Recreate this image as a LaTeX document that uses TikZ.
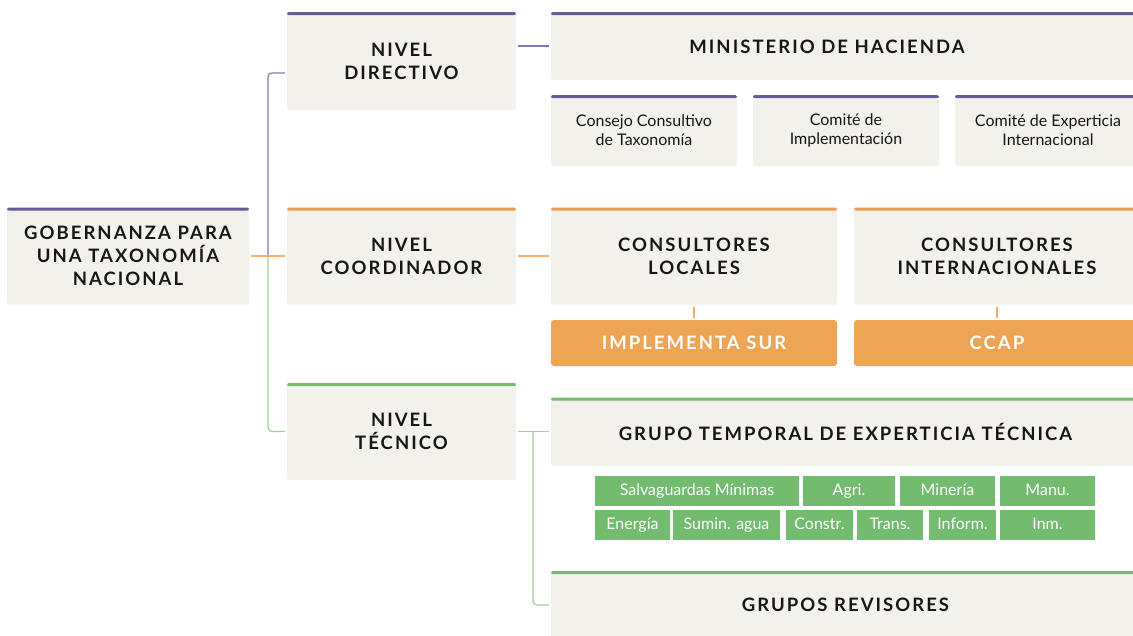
\documentclass[tikz,border=0pt]{standalone}
\usepackage{fontspec}
\setmainfont{Lato}
\newfontfamily\headfont[LetterSpace=11]{Lato}
\usetikzlibrary{calc}
\definecolor{purp}{HTML}{685A93}
\definecolor{orng}{HTML}{E9A052}
\definecolor{grn}{HTML}{72BB6F}
\definecolor{boxbg}{HTML}{F2F1EC}
\definecolor{orfill}{HTML}{EDA555}
\definecolor{ink}{HTML}{161616}
\definecolor{lpurp}{HTML}{8379AE}
\definecolor{lorng}{HTML}{EFAE68}
\definecolor{lgrn}{HTML}{9BCF98}
\tikzset{
  box/.style={fill=boxbg, rounded corners=2pt, inner sep=0pt, text=ink,
    path picture={\fill[#1] (path picture bounding box.north west) rectangle ([yshift=-3.2pt]path picture bounding box.north east);}},
  head/.style={font=\headfont\bfseries\fontsize{18.5}{23}\selectfont, align=center},
  body/.style={font=\fontsize{16}{19}\selectfont, align=center},
  obox/.style={fill=orfill, rounded corners=3pt, inner sep=0pt, text=white,
    font=\headfont\bfseries\fontsize{18.5}{23}\selectfont},
  chip/.style={fill=grn, inner sep=0pt, text=white, minimum height=30pt,
    text height=11.5pt, text depth=3.5pt, font=\fontsize{16}{18}\selectfont},
  conn/.style={line width=1.2pt, shorten <=2pt, shorten >=2pt},
}
\begin{document}
\begin{tikzpicture}[x=1pt,y=-1pt]
\clip (0,0) rectangle (1133,635);
\fill[white] (0,0) rectangle (1133,635);
% left column
\node[box=purp, head, minimum width=242pt, minimum height=97pt] (gob) at (128,256)
  {GOBERNANZA PARA\\UNA TAXONOMÍA\\NACIONAL};
\node[box=purp, head, minimum width=229pt, minimum height=98pt] (dir) at (401.5,61)
  {NIVEL\\DIRECTIVO};
\node[box=orng, head, minimum width=229pt, minimum height=97pt] (coord) at (401.5,256)
  {NIVEL\\COORDINADOR};
\node[box=grn, head, minimum width=229pt, minimum height=97pt] (tec) at (401.5,431.5)
  {NIVEL\\TÉCNICO};
% directive level
\node[box=purp, minimum width=589pt, minimum height=68pt] (min) at (845.5,46) {};
\node[head, text=ink, inner sep=0pt] (mint) at (827,47) {MINISTERIO DE HACIENDA};
\node[box=purp, body, minimum width=186pt, minimum height=71pt] (cons) at (644,130.5)
  {Consejo Consultivo\\de Taxonomía};
\node[box=purp, body, minimum width=186pt, minimum height=71pt] (impl) at (846,130.5)
  {Comité de\\Implementación};
\node[box=purp, body, minimum width=186pt, minimum height=71pt] (exp) at (1048,130.5)
  {Comité de Experticia\\Internacional};
% coordinating level
\node[box=orng, head, minimum width=286pt, minimum height=97pt] (cloc) at (694,256)
  {CONSULTORES\\LOCALES};
\node[box=orng, head, minimum width=286pt, minimum height=97pt] (cint) at (997,256)
  {CONSULTORES\\INTERNACIONALES};
\node[obox, minimum width=286pt, minimum height=46pt] (isur) at (694,343) {IMPLEMENTA SUR};
\node[obox, minimum width=286pt, minimum height=46pt] (ccap) at (997,343) {CCAP};
% technical level
\node[box=grn, head, minimum width=589pt, minimum height=68pt] (gte) at (845.5,431.5)
  {GRUPO TEMPORAL DE EXPERTICIA TÉCNICA};
\node[chip, minimum width=204pt] (c1) at (697,491) {Salvaguardas Mínimas};
\node[chip, minimum width=92pt] (c2) at (849,491) {Agri.};
\node[chip, minimum width=95pt] (c3) at (947.5,491) {Minería};
\node[chip, minimum width=95pt] (c4) at (1047.5,491) {Manu.};
\node[chip, minimum width=75pt] (d1) at (632.5,525) {Energía};
\node[chip, minimum width=107pt] (d2) at (726.5,525) {Sumin. agua};
\node[chip, minimum width=67pt] (d3) at (819.5,525) {Constr.};
\node[chip, minimum width=66pt] (d4) at (890,525) {Trans.};
\node[chip, minimum width=67pt] (d5) at (962.5,525) {Inform.};
\node[chip, minimum width=95pt] (d6) at (1047.5,525) {Inm.};
\node[box=grn, head, minimum width=589pt, minimum height=68pt] (grev) at (845.5,605)
  {GRUPOS REVISORES};
% connectors
\coordinate (trtop) at ($(dir.west)+(0,12)$);
\coordinate (trmid) at (268,256);
\draw[lpurp, line width=1.2pt, rounded corners=4pt, shorten <=2pt]
  (trtop) -- (268,73) -- (trmid);
\draw[lgrn, line width=1.2pt, rounded corners=4pt, shorten >=2pt]
  (trmid) -- (268,431.5) -- (tec.west);
\draw[lorng, conn] (gob.east) -- (coord.west);
\draw[lpurp, conn] (min.west -| dir.east) -- (min.west);
\draw[lorng, conn] (coord.east) -- (cloc.west);
\draw[lgrn, conn] (tec.east) -- (gte.west);
\coordinate (tb) at (533,431.5);
\draw[lgrn, line width=1.2pt, rounded corners=4pt, shorten >=2pt]
  (tb) -- (533,605) -- (grev.west);
\draw[lorng, conn] (cloc.south) -- (isur.north);
\draw[lorng, conn] (cint.south) -- (ccap.north);
\end{tikzpicture}
\end{document}
